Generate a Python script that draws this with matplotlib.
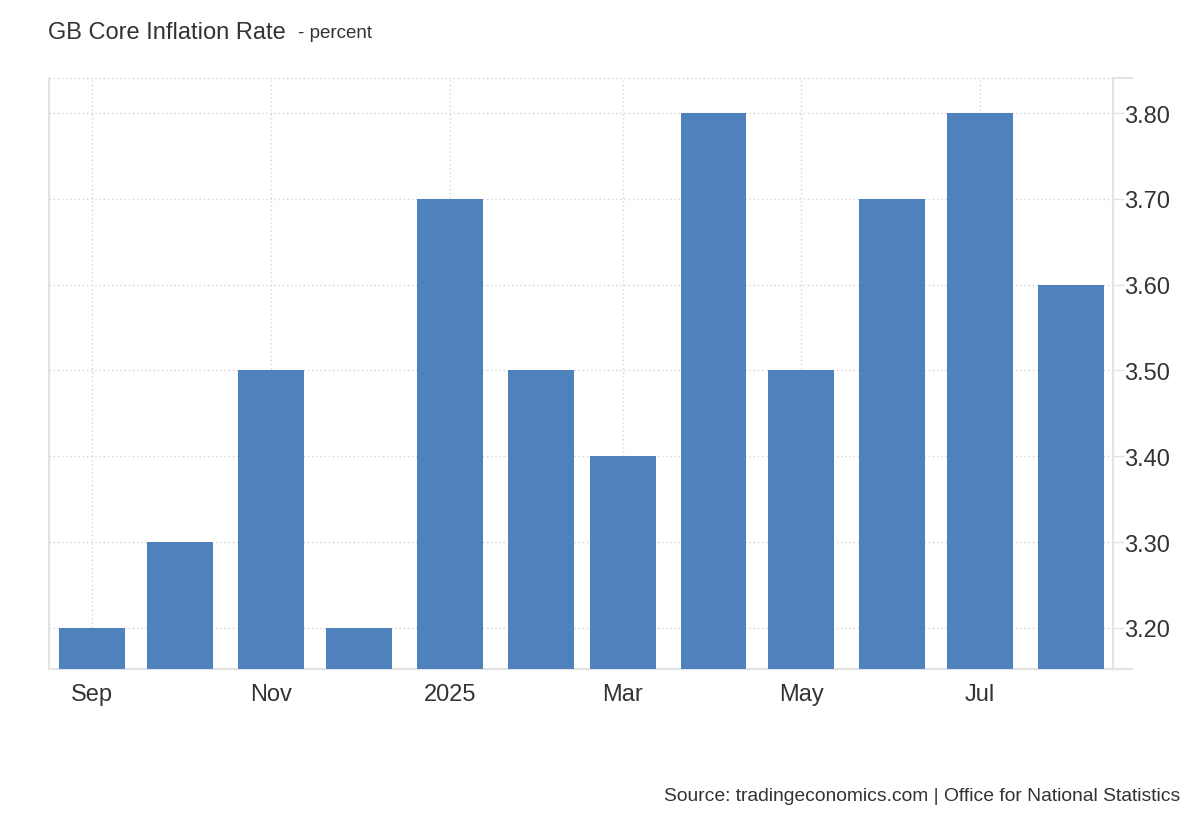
import matplotlib
matplotlib.use("Agg")
import matplotlib.pyplot as plt
from matplotlib.lines import Line2D
from datetime import datetime, timedelta

# data
months = ["2024-09-01", "2024-10-01", "2024-11-01", "2024-12-01",
          "2025-01-01", "2025-02-01", "2025-03-01", "2025-04-01",
          "2025-05-01", "2025-06-01", "2025-07-01", "2025-08-01"]
values = [3.2, 3.3, 3.5, 3.2, 3.7, 3.5, 3.4, 3.8, 3.5, 3.7, 3.8, 3.6]
tick_dates = ["2024-09-01", "2024-11-01", "2025-01-01", "2025-03-01", "2025-05-01", "2025-07-01"]
tick_labels = ["Sep", "Nov", "2025", "Mar", "May", "Jul"]
y_ticks = [3.2, 3.3, 3.4, 3.5, 3.6, 3.7, 3.8]

plt.rcParams['font.family'] = ['Liberation Sans', 'DejaVu Sans']
bar_color = "#4f81bd"
text_color = "#333333"
grid_color = "#d4d4d4"
spine_color = "#e3e3e3"

dates = [datetime.strptime(d, "%Y-%m-%d") for d in months]
ticks = [datetime.strptime(d, "%Y-%m-%d") for d in tick_dates]

fig = plt.figure(figsize=(12, 8.2), dpi=100)
W, H = 1200, 820
ax = fig.add_axes([49 / W, (H - 670) / H, (1113 - 49) / W, (670 - 79) / H])

ax.bar(dates, values, width=22.5, color=bar_color, zorder=3)

ax.set_xlim(dates[0] - timedelta(days=14.7), dates[-1] + timedelta(days=14.3))
ax.set_ylim(3.1522, 3.8408)

ax.set_xticks(ticks)
ax.set_xticklabels(tick_labels)
ax.set_yticks(y_ticks)
ax.set_yticklabels(["%.2f" % v for v in y_ticks])

ax.yaxis.tick_right()
ax.tick_params(axis="y", length=8, width=1, color=spine_color, pad=0,
               labelsize=17, labelcolor=text_color)
ax.tick_params(axis="x", length=0, pad=10, labelsize=17, labelcolor=text_color)

ax.grid(True, axis="both", color=grid_color, linestyle=(0, (1, 2)), linewidth=1, zorder=0)
ax.axhline(3.8408, color=grid_color, linestyle=(0, (1, 2)), linewidth=1, zorder=0)

ax.spines["top"].set_visible(False)
for side in ["left", "right", "bottom"]:
    ax.spines[side].set_color(spine_color)
    ax.spines[side].set_linewidth(1.5)

# small solid extensions beyond the right spine at top and bottom
ext = (1132 - 1113) / (1113 - 49)
for yy in [0, 1]:
    ax.add_line(Line2D([1, 1 + ext], [yy, yy], transform=ax.transAxes,
                       color=spine_color, linewidth=1.5, clip_on=False))

fig.text(48 / W, 1 - 33 / H, "GB Core Inflation Rate", fontsize=17,
         color=text_color, va="center", ha="left")
fig.text(298 / W, 1 - 34 / H, "- percent", fontsize=13.5,
         color=text_color, va="center", ha="left")
fig.text(1180 / W, 1 - 797 / H,
         "Source: tradingeconomics.com | Office for National Statistics",
         fontsize=13.9, color=text_color, va="center", ha="right")

fig.savefig("out.png", dpi=100)
